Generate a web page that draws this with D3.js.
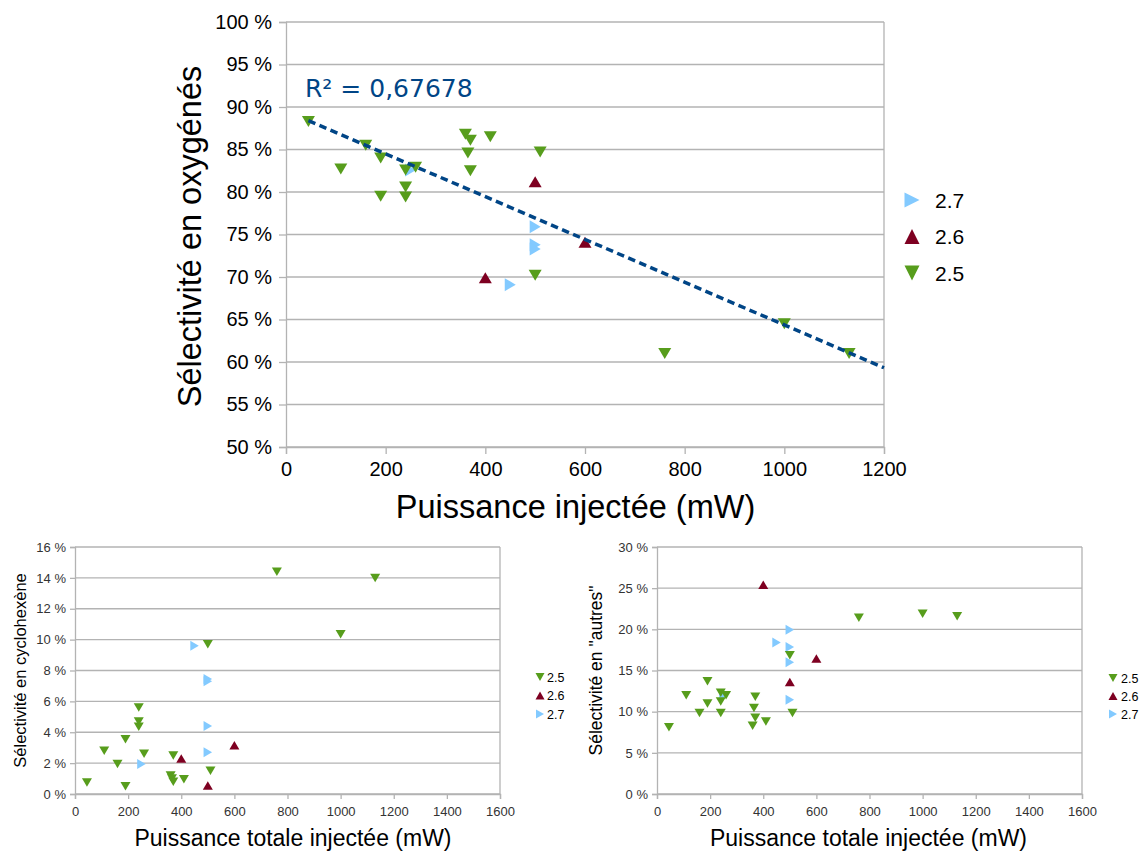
<!DOCTYPE html>
<html>
<head>
<meta charset="utf-8">
<script src="https://cdn.jsdelivr.net/npm/d3@7"></script>
<style>
  body { margin: 0; background: #fff; }
  text { font-family: "Liberation Sans", Arial, sans-serif; }
</style>
</head>
<body>
<svg id="chart" width="1142" height="851"></svg>
<script>
// series
const seriesNames = ["2.5", "2.6", "2.7"];
const seriesColors = {"2.5": "#579d1c", "2.6": "#7e0021", "2.7": "#83caff"};
const seriesShapes = {"2.5": "down", "2.6": "up", "2.7": "right"};

// Sélectivité en oxygénés (%), [puissance mW, sélectivité]
const oxy25 = [[45, 88.3], [110, 82.7], [160, 85.5], [190, 84.0], [190, 79.5], [240, 82.6], [240, 80.6], [240, 79.4],
               [260, 82.9], [360, 86.8], [365, 84.6], [370, 86.1], [370, 82.5], [410, 86.5], [500, 70.2], [510, 84.7],
               [760, 61.0], [1000, 64.5], [1130, 61.0]];
const oxy26 = [[400, 69.9], [500, 81.2], [600, 74.1]];
const oxy27 = [[250, 82.6], [450, 69.1], [500, 75.9], [500, 73.8], [500, 73.3]];
const r2Label = "R² = 0,67678";

// Sélectivité en cyclohexène (%)
const cyc25 = [[45, 0.75], [110, 2.8], [160, 1.95], [190, 3.55], [190, 0.5], [240, 5.6], [240, 4.7], [240, 4.35],
               [260, 2.6], [360, 1.2], [365, 1.0], [370, 2.5], [370, 0.8], [410, 0.95], [500, 9.7], [510, 1.5],
               [760, 14.4], [1000, 10.35], [1130, 14.0]];
const cyc26 = [[400, 2.3], [500, 0.55], [600, 3.15]];
const cyc27 = [[250, 1.95], [450, 9.6], [500, 7.45], [500, 7.3], [500, 4.4], [500, 2.7]];

// Sélectivité en "autres" (%)
const aut25 = [[45, 8.1], [110, 12.0], [160, 9.85], [190, 13.7], [190, 11.0], [240, 12.3], [240, 11.25], [240, 9.85],
               [260, 12.0], [360, 8.3], [365, 10.45], [370, 11.8], [370, 9.25], [410, 8.8], [500, 16.85], [510, 9.85],
               [760, 21.4], [1000, 21.9], [1130, 21.6]];
const aut26 = [[400, 25.4], [500, 13.6], [600, 16.45]];
const aut27 = [[250, 11.9], [450, 18.4], [500, 19.95], [500, 17.85], [500, 16.0], [500, 11.45]];

const svg = d3.select('#chart');
const gridColor = '#b3b3b3';

function triPath(shape, w, h) {
    const p = d3.path();
    if (shape === 'down') {
        p.moveTo(-w / 2, -h / 2); p.lineTo(w / 2, -h / 2); p.lineTo(0, h / 2);
    } else if (shape === 'up') {
        p.moveTo(-w / 2, h / 2); p.lineTo(w / 2, h / 2); p.lineTo(0, -h / 2);
    } else {
        p.moveTo(-h / 2, -w / 2); p.lineTo(h / 2, 0); p.lineTo(-h / 2, w / 2);
    }
    p.closePath();
    return p.toString();
}

function drawChart(cfg) {
    const b = cfg.box;
    const x = d3.scaleLinear().domain(cfg.xDomain).range([b.left, b.right]);
    const y = d3.scaleLinear().domain(cfg.yDomain).range([b.bottom, b.top]);
    const g = svg.append('g');

    const yTicks = d3.range(cfg.yDomain[0], cfg.yDomain[1] + 0.001, cfg.yStep);
    const xTicks = d3.range(cfg.xDomain[0], cfg.xDomain[1] + 0.001, cfg.xStep);

    // gridlines
    g.selectAll('.grid')
        .data(yTicks)
        .join('line')
            .attr('x1', b.left).attr('x2', b.right)
            .attr('y1', d => y(d)).attr('y2', d => y(d))
            .style('stroke', gridColor).style('stroke-width', 1.3);

    // right border
    g.append('line')
        .attr('x1', b.right).attr('x2', b.right)
        .attr('y1', b.top).attr('y2', b.bottom)
        .style('stroke', gridColor).style('stroke-width', 1.3);

    // axes
    const yAxis = g.append('g')
        .attr('transform', `translate(${b.left},0)`)
        .call(d3.axisLeft(y).tickValues(yTicks).tickSize(cfg.tickLen).tickPadding(cfg.yPad)
            .tickFormat(d => `${d} %`));
    const xAxis = g.append('g')
        .attr('transform', `translate(0,${b.bottom})`)
        .call(d3.axisBottom(x).tickValues(xTicks).tickSize(cfg.tickLen).tickPadding(cfg.xPad)
            .tickFormat(d => String(d)));

    [yAxis, xAxis].forEach(ax => {
        ax.selectAll('path, line').style('stroke', gridColor).style('stroke-width', 1.3);
        ax.selectAll('text')
            .style('font-family', '"Liberation Sans", Arial, sans-serif')
            .style('font-size', cfg.tickFont + 'px')
            .style('fill', cfg.tickColor);
    });

    // points
    ['2.7', '2.6', '2.5'].forEach(name => {
        g.selectAll(`.pt${name.replace('.', '')}`)
            .data(cfg.data[name])
            .join('path')
                .attr('d', triPath(seriesShapes[name], cfg.markW, cfg.markH))
                .attr('transform', d => `translate(${x(d[0])},${y(d[1])})`)
                .style('fill', seriesColors[name]);
    });

    // trendline (least squares on one series, extended to the axis end)
    if (cfg.trend) {
        const pts = cfg.data[cfg.trend.series];
        const mx = d3.mean(pts, d => d[0]);
        const my = d3.mean(pts, d => d[1]);
        const slope = d3.sum(pts, d => (d[0] - mx) * (d[1] - my)) / d3.sum(pts, d => (d[0] - mx) ** 2);
        const x0 = d3.min(pts, d => d[0]);
        const x1 = cfg.xDomain[1];
        g.append('line')
            .attr('x1', x(x0)).attr('y1', y(my + slope * (x0 - mx)))
            .attr('x2', x(x1)).attr('y2', y(my + slope * (x1 - mx)))
            .style('stroke', '#004586')
            .style('stroke-width', 3.5)
            .style('stroke-dasharray', '7.5,4.5');

        g.append('text')
            .attr('x', cfg.trend.labelX).attr('y', cfg.trend.labelY)
            .style('font-family', '"DejaVu Sans", sans-serif')
            .style('font-size', '25px')
            .style('fill', '#004586')
            .text(cfg.trend.label);
    }

    // axis titles
    g.append('text')
        .attr('transform', `translate(${cfg.yTitleX},${(b.top + b.bottom) / 2 + cfg.yTitleShift}) rotate(-90)`)
        .style('text-anchor', 'middle')
        .style('font-size', cfg.yTitleFont + 'px')
        .style('fill', '#000')
        .text(cfg.yTitle);
    g.append('text')
        .attr('x', cfg.xTitleX)
        .attr('y', cfg.xTitleY)
        .style('text-anchor', 'middle')
        .style('font-size', cfg.xTitleFont + 'px')
        .style('fill', '#000')
        .text(cfg.xTitle);

    // legend
    const lg = g.selectAll('.legend')
        .data(cfg.legend.order)
        .join('g')
            .attr('transform', (d, i) => `translate(${cfg.legend.x},${cfg.legend.y + i * cfg.legend.step})`);
    lg.append('path')
        .attr('d', d => triPath(seriesShapes[d], cfg.legend.markW, cfg.legend.markH))
        .style('fill', d => seriesColors[d]);
    lg.append('text')
        .attr('x', cfg.legend.textDx)
        .attr('dy', '0.36em')
        .style('font-size', cfg.legend.font + 'px')
        .style('fill', '#000')
        .text(d => d);
}

drawChart({
    box: {left: 286, right: 884, top: 22, bottom: 447},
    xDomain: [0, 1200], xStep: 200,
    yDomain: [50, 100], yStep: 5,
    tickLen: 7, yPad: 7, xPad: 8, tickFont: 20, tickColor: '#000',
    markW: 13, markH: 11,
    data: {"2.5": oxy25, "2.6": oxy26, "2.7": oxy27},
    trend: {series: "2.5", label: r2Label, labelX: 305, labelY: 97},
    yTitle: 'Sélectivité en oxygénés', yTitleX: 201, yTitleShift: 2, yTitleFont: 32.5,
    xTitle: 'Puissance injectée (mW)', xTitleX: 575.5, xTitleY: 518, xTitleFont: 32.5,
    legend: {order: ['2.7', '2.6', '2.5'], x: 912, y: 200, step: 36.5, markW: 15, markH: 15, textDx: 23, font: 21}
});

drawChart({
    box: {left: 75, right: 500, top: 547, bottom: 794},
    xDomain: [0, 1600], xStep: 200,
    yDomain: [0, 16], yStep: 2,
    tickLen: 5, yPad: 4, xPad: 8, tickFont: 13, tickColor: '#333',
    markW: 10, markH: 8.5,
    data: {"2.5": cyc25, "2.6": cyc26, "2.7": cyc27},
    yTitle: 'Sélectivité en cyclohexène', yTitleX: 26, yTitleShift: 0, yTitleFont: 16.5,
    xTitle: 'Puissance totale injectée (mW)', xTitleX: 293, xTitleY: 846, xTitleFont: 23,
    legend: {order: ['2.5', '2.6', '2.7'], x: 540, y: 677, step: 18.5, markW: 9, markH: 8, textDx: 7, font: 12.5}
});

drawChart({
    box: {left: 657, right: 1082, top: 547, bottom: 794},
    xDomain: [0, 1600], xStep: 200,
    yDomain: [0, 30], yStep: 5,
    tickLen: 5, yPad: 4, xPad: 8, tickFont: 13, tickColor: '#333',
    markW: 10, markH: 8.5,
    data: {"2.5": aut25, "2.6": aut26, "2.7": aut27},
    yTitle: 'Sélectivité en "autres"', yTitleX: 602, yTitleShift: 0, yTitleFont: 17.5,
    xTitle: 'Puissance totale injectée (mW)', xTitleX: 868.5, xTitleY: 846, xTitleFont: 23,
    legend: {order: ['2.5', '2.6', '2.7'], x: 1113, y: 678, step: 18, markW: 9, markH: 8, textDx: 8, font: 12.5}
});
</script>
</body>
</html>
